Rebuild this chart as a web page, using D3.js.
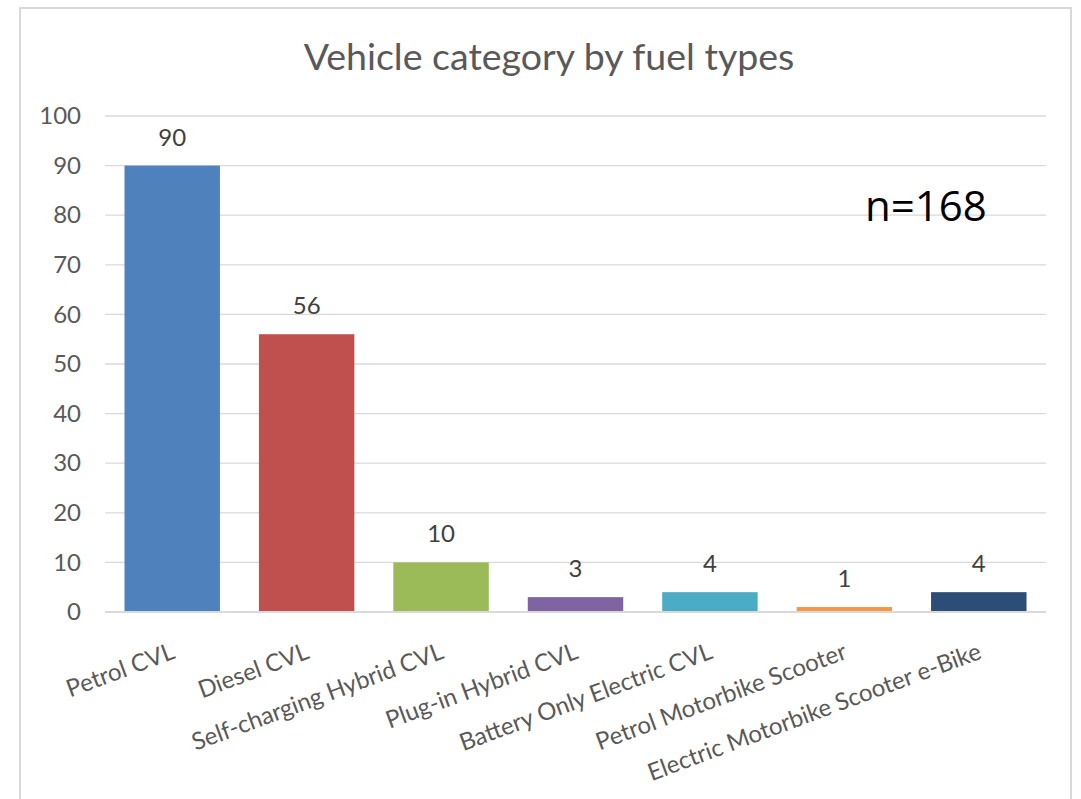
<!DOCTYPE html>
<html><head><meta charset="utf-8">
<script src="https://cdn.jsdelivr.net/npm/d3@7"></script>
<style>body{margin:0;background:#fff}svg{display:block}</style>
</head><body>
<script>
const categories = ["Petrol CVL","Diesel CVL","Self-charging Hybrid CVL","Plug-in Hybrid CVL","Battery Only Electric CVL","Petrol Motorbike Scooter","Electric Motorbike Scooter e-Bike"];
const values = [90,56,10,3,4,1,4];
const colors = ["#4F81BD","#C0504D","#9BBB59","#8064A2","#4BACC6","#F79646","#2C4D75"];
const yTicks = [0,10,20,30,40,50,60,70,80,90,100];
const title = "Vehicle category by fuel types";
const note = "n=168";

const W=1081,H=799;
const font="Lato, 'Open Sans', sans-serif";
const svg=d3.select("body").append("svg").attr("width",W).attr("height",H);
svg.append("rect").attr("width",W).attr("height",H).attr("fill","#fff");
// chart border
svg.append("path").attr("d","M20,800 L20,8 L1071,8 L1071,800").attr("fill","none").attr("stroke","#D9D9D9").attr("stroke-width",2);

const x=d3.scaleBand().domain(categories).range([105,1046]).paddingInner(0.29).paddingOuter(0.145);
const y=d3.scaleLinear().domain([0,100]).range([612,116]);

// gridlines
svg.append("g").selectAll("line").data(yTicks.filter(d=>d>0)).join("line")
  .attr("x1",105).attr("x2",1046).attr("y1",d=>y(d)).attr("y2",d=>y(d))
  .attr("stroke","#D9D9D9").attr("stroke-width",1.3);

// y axis
const ya=svg.append("g").attr("transform","translate(105,0)")
  .call(d3.axisLeft(y).tickValues(yTicks).tickSize(0).tickPadding(24));
ya.select(".domain").remove();
ya.selectAll("text").attr("font-family",font).attr("font-size",24).attr("fill","#595959");

// bars
svg.append("g").selectAll("rect").data(values).join("rect")
  .attr("x",(d,i)=>x(categories[i])).attr("width",x.bandwidth())
  .attr("y",d=>y(d)).attr("height",d=>y(0)-y(d)).attr("fill",(d,i)=>colors[i]);

// baseline
svg.append("line").attr("x1",105).attr("x2",1046).attr("y1",y(0)).attr("y2",y(0))
  .attr("stroke","#D9D9D9").attr("stroke-width",2);

// data labels
svg.append("g").selectAll("text").data(values).join("text")
  .attr("x",(d,i)=>x(categories[i])+x.bandwidth()/2).attr("y",d=>y(d)-20)
  .attr("text-anchor","middle").attr("font-family",font).attr("font-size",24).attr("fill","#404040")
  .text(d=>d);

// x labels
const xa=svg.append("g").attr("transform",`translate(0,${y(0)})`)
  .call(d3.axisBottom(x).tickSize(0).tickPadding(0));
xa.select(".domain").remove();
xa.selectAll("text").attr("font-family",font).attr("font-size",24).attr("fill","#595959")
  .attr("text-anchor","end").attr("dy",0)
  .attr("transform","translate(4,46) rotate(-20.4)");

// title
svg.append("text").attr("x",549).attr("y",70).attr("text-anchor","middle")
  .attr("font-family",font).attr("font-size",37.5).attr("fill","#595959").text(title);

// note
svg.append("text").attr("x",865).attr("y",221).attr("font-family","'Open Sans', Lato, sans-serif")
  .attr("font-size",42).attr("fill","#000").text(note);
</script>
</body></html>
